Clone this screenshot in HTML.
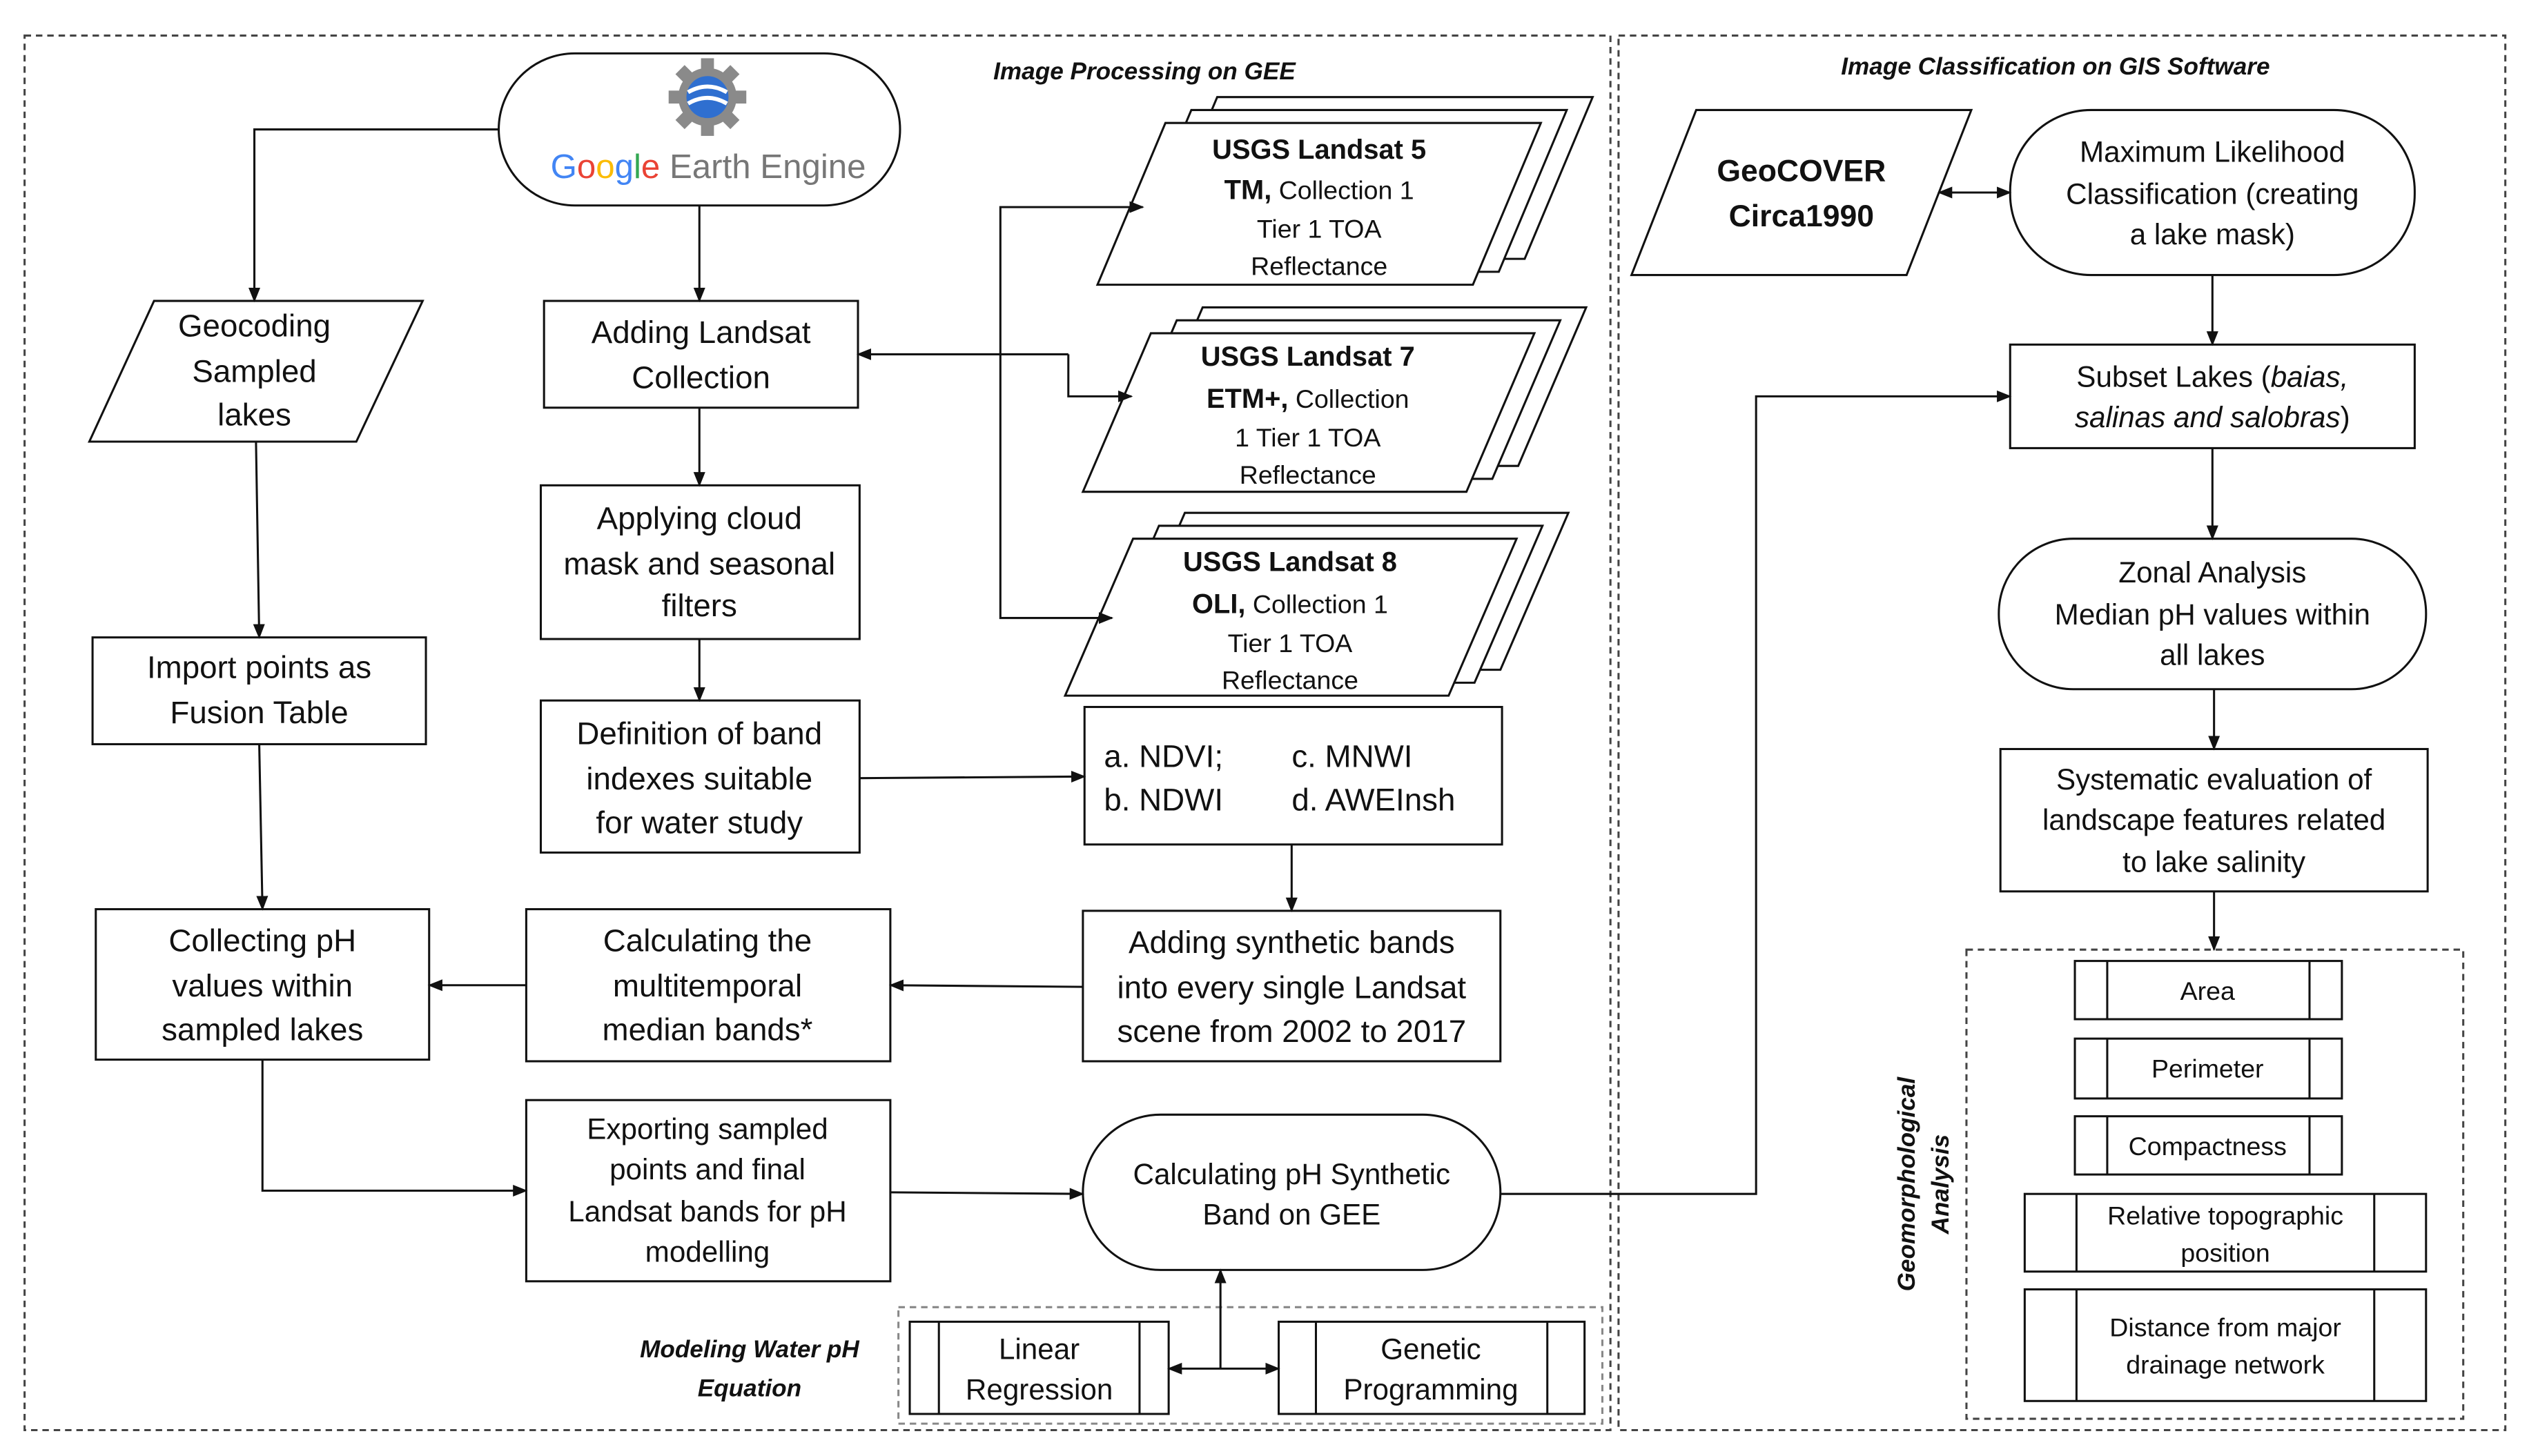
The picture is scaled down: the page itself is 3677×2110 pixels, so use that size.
<!DOCTYPE html>
<html><head><meta charset="utf-8"><style>
html,body{margin:0;padding:0;background:#fff}
svg{display:block}
text{font-family:"Liberation Sans",sans-serif;fill:#111}
</style></head><body>
<svg width="3677" height="2110" viewBox="0 0 1568 900" xmlns="http://www.w3.org/2000/svg">
<defs>
<marker id="a" viewBox="0 0 10 10" refX="9" refY="5" markerWidth="7" markerHeight="7" orient="auto-start-reverse"><path d="M0,1 L10,5 L0,9 z" fill="#111"/></marker>
</defs>
<rect width="1568" height="900" fill="#fff"/>
<g fill="none" stroke="#444" stroke-width="1.3" stroke-dasharray="4,3">
<rect x="15" y="22" width="980" height="862"/>
<rect x="1000" y="22" width="548" height="862"/>
<rect x="555" y="808" width="435" height="72" stroke="#888"/>
<rect x="1215" y="587" width="307" height="290"/>
</g>
<g font-weight="bold" font-style="italic" font-size="15" text-anchor="middle">
<text x="707" y="49">Image Processing on GEE</text>
<text x="1270" y="46">Image Classification on GIS Software</text>
<text x="463" y="839">Modeling Water pH</text>
<text x="463" y="863">Equation</text>
<text transform="translate(1183,732) rotate(-90)" >Geomorphological</text>
<text transform="translate(1204,732) rotate(-90)" >Analysis</text>
</g>
<g fill="#fff" stroke="#111" stroke-width="1.3">
<rect x="308" y="33" width="248" height="94" rx="47"/>
<polygon points="95,186 261,186 220,273 55,273"/>
<rect x="336" y="186" width="194" height="66"/>
<rect x="334" y="300" width="197" height="95"/>
<rect x="334" y="433" width="197" height="94"/>
<rect x="670" y="437" width="258" height="85"/>
<rect x="669" y="563" width="258" height="93"/>
<rect x="325" y="562" width="225" height="94"/>
<rect x="59" y="562" width="206" height="93"/>
<rect x="57" y="394" width="206" height="66"/>
<rect x="325" y="680" width="225" height="112"/>
<rect x="669" y="689" width="258" height="96" rx="48"/>
<rect x="562" y="817" width="160" height="57"/><line x1="580" y1="817" x2="580" y2="874"/><line x1="704" y1="817" x2="704" y2="874"/>
<rect x="790" y="817" width="189" height="57"/><line x1="813" y1="817" x2="813" y2="874"/><line x1="956" y1="817" x2="956" y2="874"/>
<polygon points="752,60 984,60 942,160 710,160"/>
<polygon points="736,68 968,68 926,168 694,168"/>
<polygon points="720,76 952,76 910,176 678,176"/>
<polygon points="743,190 980,190 938,288 701,288"/>
<polygon points="727,198 964,198 922,296 685,296"/>
<polygon points="711,206 948,206 906,304 669,304"/>
<polygon points="732,317 969,317 927,414 690,414"/>
<polygon points="716,325 953,325 911,422 674,422"/>
<polygon points="700,333 937,333 895,430 658,430"/>
<polygon points="1048,68 1218,68 1178,170 1008,170"/>
<rect x="1242" y="68" width="250" height="102" rx="50"/>
<rect x="1242" y="213" width="250" height="64"/>
<rect x="1235" y="333" width="264" height="93" rx="46"/>
<rect x="1236" y="463" width="264" height="88"/>
<rect x="1282" y="594" width="165" height="36"/><line x1="1302" y1="594" x2="1302" y2="630"/><line x1="1427" y1="594" x2="1427" y2="630"/>
<rect x="1282" y="642" width="165" height="37"/><line x1="1302" y1="642" x2="1302" y2="679"/><line x1="1427" y1="642" x2="1427" y2="679"/>
<rect x="1282" y="690" width="165" height="36"/><line x1="1302" y1="690" x2="1302" y2="726"/><line x1="1427" y1="690" x2="1427" y2="726"/>
<rect x="1251" y="738" width="248" height="48"/><line x1="1283" y1="738" x2="1283" y2="786"/><line x1="1467" y1="738" x2="1467" y2="786"/>
<rect x="1251" y="797" width="248" height="69"/><line x1="1283" y1="797" x2="1283" y2="866"/><line x1="1467" y1="797" x2="1467" y2="866"/>
</g>
<g fill="none" stroke="#111" stroke-width="1.3" marker-end="url(#a)">
<polyline points="308,80 157,80 157,186"/>
<line x1="432" y1="127" x2="432" y2="186"/>
<line x1="432" y1="252" x2="432" y2="300"/>
<line x1="432" y1="395" x2="432" y2="433"/>
<line x1="531" y1="481" x2="670" y2="480"/>
<line x1="798" y1="522" x2="798" y2="563"/>
<line x1="669" y1="610" x2="550" y2="609"/>
<line x1="325" y1="609" x2="265" y2="609"/>
<line x1="158" y1="273" x2="160" y2="394"/>
<line x1="160" y1="460" x2="162" y2="562"/>
<polyline points="162,655 162,736 325,736"/>
<line x1="550" y1="737" x2="669" y2="738"/>
<line x1="754" y1="846" x2="754" y2="785"/>
<line x1="722" y1="846" x2="790" y2="846" marker-start="url(#a)"/>
<polyline points="618,219 618,128 706,128"/>
<polyline points="618,219 618,382 687,382"/>
<polyline points="660,219 660,245 699,245"/>
<line x1="660" y1="219" x2="530" y2="219"/>
<line x1="1198" y1="119" x2="1242" y2="119" marker-start="url(#a)"/>
<line x1="1367" y1="170" x2="1367" y2="213"/>
<line x1="1367" y1="277" x2="1367" y2="333"/>
<line x1="1368" y1="426" x2="1368" y2="463"/>
<line x1="1368" y1="551" x2="1368" y2="587"/>
<polyline points="927,738 1085,738 1085,245 1242,245"/>
</g>
<!-- GEE logo -->
<g transform="translate(437,60)">
<circle r="18" fill="#8a8a8a"/>
<g fill="#8a8a8a"><rect x="-4" y="-24" width="8" height="48"/><rect x="-24" y="-4" width="48" height="8"/><rect x="-4" y="-24" width="8" height="48" transform="rotate(45)"/><rect x="-4" y="-24" width="8" height="48" transform="rotate(-45)"/></g>
<circle r="13" fill="#2f6fd0"/>
<path d="M-12,-3 Q0,-10 12,-3 M-12,4 Q0,-3 12,4" stroke="#fff" stroke-width="2.5" fill="none"/>
</g>
<text x="340" y="110" font-size="21"><tspan fill="#4285f4">G</tspan><tspan fill="#ea4335">o</tspan><tspan fill="#fbbc05">o</tspan><tspan fill="#4285f4">g</tspan><tspan fill="#34a853">l</tspan><tspan fill="#ea4335">e</tspan><tspan fill="#777"> Earth Engine</tspan></text>
<g font-size="19.5" text-anchor="middle">
<text x="157" y="208">Geocoding</text><text x="157" y="236">Sampled</text><text x="157" y="263">lakes</text>
<text x="433" y="212">Adding Landsat</text><text x="433" y="240">Collection</text>
<text x="432" y="327">Applying cloud</text><text x="432" y="355">mask and seasonal</text><text x="432" y="381">filters</text>
<text x="432" y="460">Definition of band</text><text x="432" y="488">indexes suitable</text><text x="432" y="515">for water study</text>
<text x="798" y="589">Adding synthetic bands</text><text x="798" y="617">into every single Landsat</text><text x="798" y="644">scene from 2002 to 2017</text>
<text x="437" y="588">Calculating the</text><text x="437" y="616">multitemporal</text><text x="437" y="643">median bands*</text>
<text x="162" y="588">Collecting pH</text><text x="162" y="616">values within</text><text x="162" y="643">sampled lakes</text>
<text x="160" y="419">Import points as</text><text x="160" y="447">Fusion Table</text>
</g>
<g font-size="19.5">
<text x="682" y="474">a.  NDVI;</text><text x="798" y="474">c.   MNWI</text>
<text x="682" y="501">b.  NDWI</text><text x="798" y="501">d.  AWEInsh</text>
</g>
<g font-size="18" text-anchor="middle">
<text x="437" y="704">Exporting sampled</text><text x="437" y="729">points and final</text><text x="437" y="755">Landsat bands for pH</text><text x="437" y="780">modelling</text>
<text x="798" y="732">Calculating pH Synthetic</text><text x="798" y="757">Band on GEE</text>
<text x="642" y="840">Linear</text><text x="642" y="865">Regression</text>
<text x="884" y="840">Genetic</text><text x="884" y="865">Programming</text>
<text x="1367" y="100">Maximum Likelihood</text><text x="1367" y="126">Classification (creating</text><text x="1367" y="151">a lake mask)</text>
<text x="1367" y="239">Subset Lakes (<tspan font-style="italic">baias,</tspan></text><text x="1367" y="264" font-style="italic">salinas and salobras<tspan font-style="normal">)</tspan></text>
<text x="1367" y="360">Zonal Analysis</text><text x="1367" y="386">Median pH values within</text><text x="1367" y="411">all lakes</text>
<text x="1368" y="488">Systematic evaluation of</text><text x="1368" y="513">landscape features related</text><text x="1368" y="539">to lake salinity</text>
</g>
<g font-size="16" text-anchor="middle">
<text x="1364" y="618">Area</text>
<text x="1364" y="666">Perimeter</text>
<text x="1364" y="714">Compactness</text>
<text x="1375" y="757">Relative topographic</text><text x="1375" y="780">position</text>
<text x="1375" y="826">Distance from major</text><text x="1375" y="849">drainage network</text>
<text x="815" y="98" font-weight="bold" font-size="17">USGS Landsat 5</text>
<text x="815" y="123"><tspan font-weight="bold" font-size="17">TM,</tspan> Collection 1</text>
<text x="815" y="147">Tier 1 TOA</text><text x="815" y="170">Reflectance</text>
<text x="808" y="226" font-weight="bold" font-size="17">USGS Landsat 7</text>
<text x="808" y="252"><tspan font-weight="bold" font-size="17">ETM+,</tspan> Collection</text>
<text x="808" y="276">1 Tier 1 TOA</text><text x="808" y="299">Reflectance</text>
<text x="797" y="353" font-weight="bold" font-size="17">USGS Landsat 8</text>
<text x="797" y="379"><tspan font-weight="bold" font-size="17">OLI,</tspan> Collection 1</text>
<text x="797" y="403">Tier 1 TOA</text><text x="797" y="426">Reflectance</text>
</g>
<g font-size="19" font-weight="bold" text-anchor="middle">
<text x="1113" y="112">GeoCOVER</text><text x="1113" y="140">Circa1990</text>
</g>
</svg>
</body></html>
